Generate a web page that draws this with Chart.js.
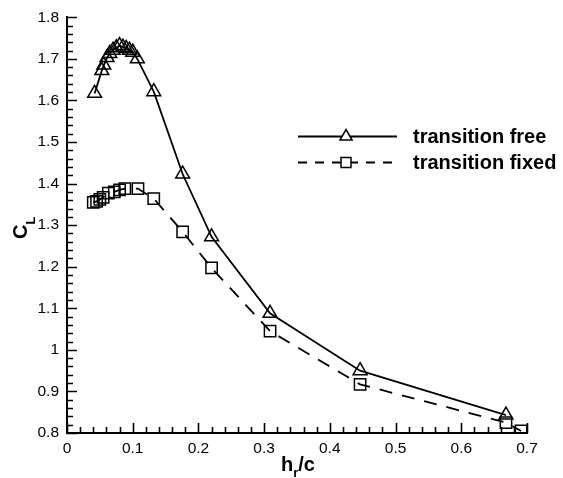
<!DOCTYPE html>
<html lang="en">
<head>
    <meta charset="UTF-8">
    <title>CL vs hr/c</title>
    <script src="https://cdn.jsdelivr.net/npm/chart.js@4.4.1/dist/chart.umd.min.js"></script>
    <style>
        html, body { margin: 0; padding: 0; background: #ffffff; }
        #wrap { width: 563px; height: 478px; }
    </style>
</head>
<body>
    <div id="wrap"><canvas id="clChart" width="563" height="478"></canvas></div>

    <script>
        // transition free (triangles)
        const xFree = [0.042, 0.053, 0.056, 0.061, 0.065, 0.070, 0.075, 0.080, 0.085, 0.090, 0.095, 0.100, 0.107, 0.132, 0.176, 0.220, 0.309, 0.446, 0.668];
        const yFree = [1.617, 1.672, 1.685, 1.703, 1.713, 1.721, 1.727, 1.732, 1.728, 1.725, 1.721, 1.716, 1.700, 1.621, 1.423, 1.272, 1.088, 0.950, 0.843];

        // transition fixed (squares)
        const xFixed = [0.040, 0.045, 0.050, 0.055, 0.063, 0.072, 0.080, 0.088, 0.108, 0.132, 0.176, 0.220, 0.309, 0.446, 0.668, 0.691];
        const yFixed = [1.355, 1.357, 1.362, 1.367, 1.377, 1.380, 1.385, 1.388, 1.388, 1.364, 1.284, 1.197, 1.045, 0.917, 0.825, 0.805];

        const seriesNames = ['transition free', 'transition fixed'];

        // axis ticks
        const xTicks = [0, 0.1, 0.2, 0.3, 0.4, 0.5, 0.6, 0.7];
        const xTickLabels = ['0', '0.1', '0.2', '0.3', '0.4', '0.5', '0.6', '0.7'];
        const yTicks = [0.8, 0.9, 1.0, 1.1, 1.2, 1.3, 1.4, 1.5, 1.6, 1.7, 1.8];
        const yTickLabels = ['0.8', '0.9', '1', '1.1', '1.2', '1.3', '1.4', '1.5', '1.6', '1.7', '1.8'];

        const toPoints = (xs, ys) => xs.map((x, i) => ({ x: x, y: ys[i] }));

        // inward major/minor ticks, like the original plot
        const innerTicks = {
            id: 'innerTicks',
            afterDatasetsDraw(chart) {
                const ctx = chart.ctx;
                const xs = chart.scales.x, ys = chart.scales.y;
                const area = chart.chartArea;
                ctx.save();
                ctx.strokeStyle = '#000';
                ctx.lineWidth = 1.6;
                ctx.beginPath();
                for (let i = 0; i <= 35; i++) {
                    const v = i * 0.02;
                    const px = Math.round(xs.getPixelForValue(v)) + 0.5;
                    const len = (i % 5 === 0) ? 10 : 6;
                    ctx.moveTo(px, area.bottom);
                    ctx.lineTo(px, area.bottom - len);
                }
                for (let i = 0; i <= 50; i++) {
                    const v = 0.8 + i * 0.02;
                    const py = Math.round(ys.getPixelForValue(v)) + 0.5;
                    const len = (i % 5 === 0) ? 10 : 6;
                    ctx.moveTo(area.left, py);
                    ctx.lineTo(area.left + len, py);
                }
                ctx.stroke();
                ctx.restore();
            }
        };

        // axis titles with subscripts
        const axisTitles = {
            id: 'axisTitles',
            afterDraw(chart) {
                const ctx = chart.ctx;
                ctx.save();
                ctx.fillStyle = '#000';
                ctx.textBaseline = 'alphabetic';
                ctx.textAlign = 'left';

                // h_r/c
                ctx.font = 'bold 20px "Liberation Sans", Arial, sans-serif';
                const hW = ctx.measureText('h').width;
                const x0 = 281, base = 471;
                ctx.fillText('h', x0, base);
                ctx.font = 'bold 13px "Liberation Sans", Arial, sans-serif';
                const rW = ctx.measureText('r').width;
                ctx.fillText('r', x0 + hW, base + 6);
                ctx.font = 'bold 20px "Liberation Sans", Arial, sans-serif';
                ctx.fillText('/c', x0 + hW + rW, base);

                // C_L rotated
                ctx.translate(27, 239);
                ctx.rotate(-Math.PI / 2);
                ctx.font = 'bold 20px "Liberation Sans", Arial, sans-serif';
                const cW = ctx.measureText('C').width;
                ctx.fillText('C', 0, 0);
                ctx.font = 'bold 13px "Liberation Sans", Arial, sans-serif';
                ctx.fillText('L', cW, 8);
                ctx.restore();
            }
        };

        // legend drawn as line-with-marker rows
        const lineLegend = {
            id: 'lineLegend',
            afterDraw(chart) {
                const ctx = chart.ctx;
                const rows = [136.5, 162.5];
                ctx.save();
                chart.data.datasets.forEach((ds, i) => {
                    const y = rows[i];
                    ctx.strokeStyle = '#000';
                    ctx.lineWidth = ds.borderWidth;
                    ctx.setLineDash(ds.borderDash ? [9, 8] : []);
                    ctx.beginPath();
                    ctx.moveTo(298, y);
                    ctx.lineTo(397, y);
                    ctx.stroke();
                    ctx.setLineDash([]);
                    ctx.lineWidth = ds.pointBorderWidth;
                    if (ds.pointStyle === 'triangle') {
                        const r = 7;
                        ctx.beginPath();
                        ctx.moveTo(346, y - r);
                        ctx.lineTo(346 + r * 0.87, y + r * 0.5);
                        ctx.lineTo(346 - r * 0.87, y + r * 0.5);
                        ctx.closePath();
                        ctx.fillStyle = '#fff';
                        ctx.fill();
                        ctx.stroke();
                    } else {
                        ctx.fillStyle = '#fff';
                        ctx.fillRect(341, y - 5, 10, 10);
                        ctx.strokeRect(341, y - 5, 10, 10);
                    }
                    ctx.fillStyle = '#000';
                    ctx.font = 'bold 20px "Liberation Sans", Arial, sans-serif';
                    ctx.textAlign = 'left';
                    ctx.textBaseline = 'middle';
                    ctx.fillText(ds.label, 413, y + 1);
                });
                ctx.restore();
            }
        };

        const ctx = document.getElementById('clChart').getContext('2d');
        new Chart(ctx, {
            type: 'scatter',
            data: {
                datasets: [
                    {
                        label: seriesNames[0],
                        data: toPoints(xFree, yFree),
                        showLine: true,
                        borderColor: '#000',
                        borderWidth: 1.8,
                        tension: 0,
                        pointStyle: 'triangle',
                        pointRadius: 8,
                        pointBorderWidth: 1.5,
                        pointBorderColor: '#000',
                        pointBackgroundColor: 'rgba(0,0,0,0)'
                    },
                    {
                        label: seriesNames[1],
                        data: toPoints(xFixed, yFixed),
                        showLine: true,
                        borderColor: '#000',
                        borderWidth: 1.8,
                        borderDash: [13, 10],
                        tension: 0,
                        pointStyle: 'rect',
                        pointRadius: 8,
                        pointBorderWidth: 1.5,
                        pointBorderColor: '#000',
                        pointBackgroundColor: 'rgba(0,0,0,0)'
                    }
                ]
            },
            options: {
                responsive: false,
                animation: false,
                layout: { padding: { top: 17, right: 36, left: 0, bottom: 0 } },
                plugins: {
                    legend: { display: false },
                    tooltip: { enabled: false }
                },
                scales: {
                    x: {
                        type: 'linear',
                        min: 0,
                        max: 0.7,
                        afterBuildTicks: (scale) => { scale.ticks = xTicks.map(v => ({ value: v })); },
                        afterFit: (scale) => { scale.height = 45; },
                        grid: { display: false, drawTicks: false },
                        border: { display: true, color: '#000', width: 2 },
                        ticks: {
                            color: '#000',
                            padding: 6,
                            maxRotation: 0,
                            font: { family: '"Liberation Sans", Arial, sans-serif', size: 15.5 },
                            callback: (v, i) => xTickLabels[i]
                        }
                    },
                    y: {
                        type: 'linear',
                        min: 0.8,
                        max: 1.8,
                        afterBuildTicks: (scale) => { scale.ticks = yTicks.map(v => ({ value: v })); },
                        afterFit: (scale) => { scale.width = 67; },
                        grid: { display: false, drawTicks: false },
                        border: { display: true, color: '#000', width: 2 },
                        ticks: {
                            color: '#000',
                            padding: 8,
                            font: { family: '"Liberation Sans", Arial, sans-serif', size: 15.5 },
                            callback: (v, i) => yTickLabels[i]
                        }
                    }
                }
            },
            plugins: [innerTicks, axisTitles, lineLegend]
        });
    </script>
</body>
</html>
